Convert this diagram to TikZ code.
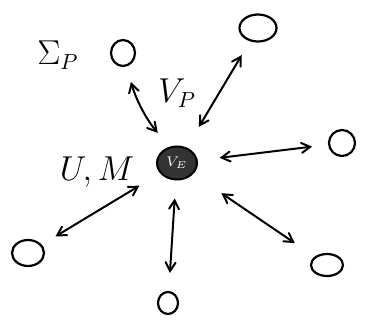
\documentclass[tikz,border=0pt]{standalone}
\usetikzlibrary{shapes.geometric, arrows}

\begin{document}
\begin{tikzpicture}[
    x=0.5pt, y=-0.5pt,
    hub/.style={ellipse, draw, line width=1pt, fill=black!80, text=white, inner sep=0pt, minimum width=20pt, minimum height=16.5pt, font=\scriptsize},
    peer/.style={ellipse, draw, line width=1.1pt, inner sep=0pt},
    tag/.style={font=\fontsize{16}{18}\selectfont},
    link/.style={draw, <->, >=angle 60, line width=1pt, shorten <=11pt, shorten >=8pt}
]
    \useasboundingbox (0,0) rectangle (366,327);

    % Nodes
    \node (hub) [hub] at (177,163) {$V_E$};
    \node (pa) [peer, minimum width=12pt, minimum height=13pt] at (123,53) {};
    \node (pb) [peer, minimum width=18.5pt, minimum height=13.5pt] at (258,28) {};
    \node (pc) [peer, minimum width=13pt, minimum height=13pt] at (342,143) {};
    \node (pd) [peer, minimum width=16pt, minimum height=11pt] at (327,265) {};
    \node (pe) [peer, minimum width=10pt, minimum height=11pt] at (168,303) {};
    \node (pf) [peer, minimum width=16pt, minimum height=13pt] at (28,253) {};

    \node (sig) [tag] at (58,55) {$\Sigma_P$};
    \node (vp) [tag] at (177,93) {$V_P$};
    \node (um) [tag] at (97,172) {$U,M$};

    % Connections
    \draw [link, shorten <=9pt] (hub.115) to[bend left=12] (pa);
    \draw [link, shorten <=12pt] (hub) -- (pb);
    \draw [link] (hub) -- (pc);
    \draw [link, shorten <=17pt, shorten >=12pt] (hub) -- (pd);
    \draw [link, shorten <=9pt, shorten >=9pt] (hub) -- (pe);
    \draw [link, shorten <=12pt] (hub) -- (pf);
\end{tikzpicture}
\end{document}
